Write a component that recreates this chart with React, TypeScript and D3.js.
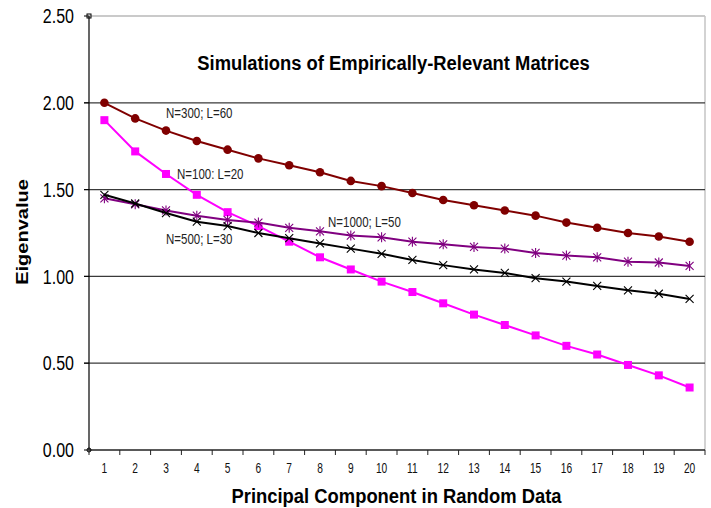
import React, { useEffect, useRef } from "react";
import * as d3 from "d3";

const components = d3.range(1, 21).map(String);

const n300L60 = [2.0, 1.91, 1.84, 1.78, 1.73, 1.68, 1.64, 1.6, 1.55, 1.52, 1.48, 1.44, 1.41, 1.38, 1.35, 1.31, 1.28, 1.25, 1.23, 1.2];
const n100L20 = [1.9, 1.72, 1.59, 1.47, 1.37, 1.29, 1.2, 1.11, 1.04, 0.97, 0.91, 0.845, 0.78, 0.72, 0.66, 0.6, 0.55, 0.49, 0.43, 0.36];
const n1000L50 = [1.45, 1.415, 1.38, 1.35, 1.325, 1.31, 1.28, 1.26, 1.235, 1.225, 1.2, 1.185, 1.17, 1.16, 1.135, 1.12, 1.11, 1.085, 1.08, 1.06];
const n500L30 = [1.47, 1.42, 1.365, 1.315, 1.29, 1.25, 1.22, 1.19, 1.16, 1.13, 1.095, 1.065, 1.04, 1.02, 0.99, 0.97, 0.945, 0.92, 0.9, 0.87];

const yTicks = [0, 0.5, 1.0, 1.5, 2.0, 2.5];

const series = [
  { name: "N=300; L=60", values: n300L60, color: "#800000", marker: "circle", label: [166, 118] },
  { name: "N=100: L=20", values: n100L20, color: "#ff00ff", marker: "square", label: [177, 179] },
  { name: "N=1000; L=50", values: n1000L50, color: "#800080", marker: "star", label: [328, 226.5] },
  { name: "N=500; L=30", values: n500L30, color: "#000000", marker: "cross", label: [166, 244] },
];

const FONT = "'Liberation Sans', Arial, sans-serif";

export default function App() {
  const ref = useRef<SVGSVGElement>(null);

  useEffect(() => {
    const svg = d3.select(ref.current);
    svg.selectAll("*").remove();

    const left = 89, right = 705, top = 16, bottom = 450;
    const x = d3.scaleBand().domain(components).range([left, right]);
    const y = d3.scaleLinear().domain([0, 2.5]).range([bottom, top]);
    const cx = (i: number) => (x(components[i]) as number) + x.bandwidth() / 2;

    // stretched text helper (the original chart is taller than it is wide)
    const txt = (g: any, tx: number, ty: number, s: string, size: number, opts: any = {}) =>
      g.append("text")
        .attr("transform", `translate(${tx},${ty}) scale(${opts.sx || 1},${opts.sy || 1.25})${opts.rot ? " rotate(-90)" : ""}`)
        .attr("text-anchor", opts.anchor || "start")
        .attr("dy", opts.dy || 0)
        .attr("font-family", FONT)
        .attr("font-size", size)
        .attr("font-weight", opts.bold ? "bold" : "normal")
        .attr("fill", opts.fill || "#000")
        .text(s);

    // plot frame
    svg.append("line").attr("x1", left).attr("x2", right).attr("y1", top).attr("y2", top)
      .attr("stroke", "#b8b8b8").attr("stroke-width", 1.5);
    svg.append("line").attr("x1", right).attr("x2", right).attr("y1", top).attr("y2", bottom)
      .attr("stroke", "#c4c4c4").attr("stroke-width", 1.5);

    // gridlines
    svg.append("g").selectAll("line")
      .data(yTicks.filter((d) => d > 0 && d < 2.5))
      .join("line")
      .attr("x1", left - 5).attr("x2", right)
      .attr("y1", (d) => y(d)).attr("y2", (d) => y(d))
      .attr("stroke", "#3a3a3a").attr("stroke-width", 1.3);

    // y axis
    svg.append("line").attr("x1", left).attr("x2", left).attr("y1", top).attr("y2", bottom)
      .attr("stroke", "#000").attr("stroke-width", 1.2);
    svg.append("g").selectAll("line").data(yTicks).join("line")
      .attr("x1", left - 5).attr("x2", left).attr("y1", (d) => y(d)).attr("y2", (d) => y(d))
      .attr("stroke", "#000");
    const yl = svg.append("g");
    yTicks.forEach((d) => txt(yl, 74, y(d), d.toFixed(2), 16, { anchor: "end", dy: "0.36em" }));

    // x axis
    svg.append("line").attr("x1", left).attr("x2", right).attr("y1", bottom).attr("y2", bottom)
      .attr("stroke", "#222").attr("stroke-width", 1.3);
    svg.append("g").selectAll("line").data(d3.range(0, 21)).join("line")
      .attr("x1", (i) => left + i * x.bandwidth()).attr("x2", (i) => left + i * x.bandwidth())
      .attr("y1", bottom).attr("y2", bottom + 5)
      .attr("stroke", "#222");
    const xl = svg.append("g");
    components.forEach((c, i) => txt(xl, cx(i), 473, c, 12, { anchor: "middle", sx: 0.85, fill: "#111" }));

    // corner markers of the axes
    svg.append("rect").attr("x", left - 2).attr("y", top - 2).attr("width", 4).attr("height", 4)
      .attr("fill", "none").attr("stroke", "#000");
    svg.append("circle").attr("cx", left).attr("cy", bottom).attr("r", 2)
      .attr("fill", "none").attr("stroke", "#000");

    // series
    const line = d3.line<number>().x((_, i) => cx(i)).y((d) => y(d));
    series.forEach((s) => {
      const g = svg.append("g");
      g.append("path").datum(s.values).attr("d", line)
        .attr("fill", "none").attr("stroke", s.color).attr("stroke-width", 2);
      s.values.forEach((v, i) => {
        const px = cx(i), py = y(v);
        if (s.marker === "circle") {
          g.append("circle").attr("cx", px).attr("cy", py).attr("r", 4.3).attr("fill", s.color);
        } else if (s.marker === "square") {
          g.append("rect").attr("x", px - 4).attr("y", py - 4).attr("width", 8).attr("height", 8).attr("fill", s.color);
        } else {
          const r = 4;
          const d = `M${px - r},${py - r}L${px + r},${py + r}M${px - r},${py + r}L${px + r},${py - r}` +
            (s.marker === "star" ? `M${px},${py - r - 1}L${px},${py + r + 1}` : "");
          g.append("path").attr("d", d).attr("stroke", s.color).attr("stroke-width", 1.1).attr("fill", "none");
        }
      });
    });

    // series labels
    const lab = svg.append("g");
    series.forEach((s) => txt(lab, s.label[0], s.label[1], s.name, 11.5, { fill: "#222" }));

    // title and axis titles
    const t = svg.append("g");
    txt(t, 393.5, 70, "Simulations of Empirically-Relevant Matrices", 18.4, { anchor: "middle", bold: true, sy: 1.1 });
    txt(t, 396.5, 503, "Principal Component in Random Data", 18.4, { anchor: "middle", bold: true, sy: 1.1 });
    txt(t, 28, 232, "Eigenvalue", 16, { anchor: "middle", bold: true, rot: true });
  }, []);

  return (
    <svg
      ref={ref}
      width={711}
      height={508}
      style={{ position: "absolute", left: 0, top: 0, background: "#fff" }}
    />
  );
}
